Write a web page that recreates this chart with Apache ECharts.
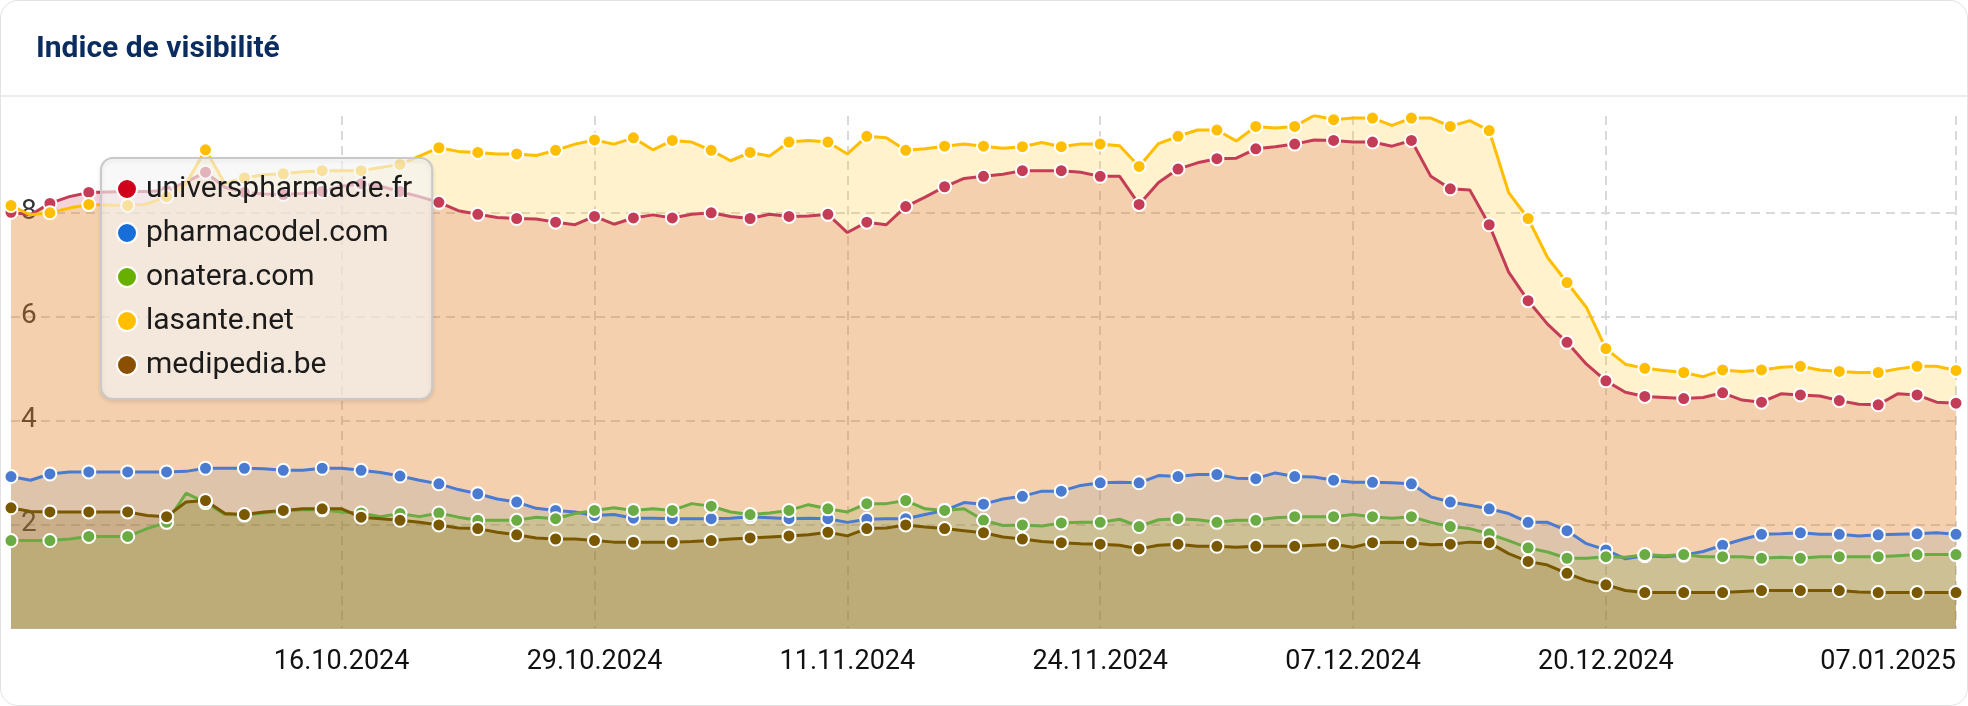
<!DOCTYPE html>
<html>
<head>
<meta charset="utf-8">
<script src="https://cdn.jsdelivr.net/npm/echarts@6/dist/echarts.min.js"></script>
<style>
html,body{margin:0;padding:0;background:#fff;}
#card{position:absolute;left:0;top:0;width:1966px;height:704px;border:1px solid #e2e2e2;border-radius:18px;overflow:hidden;background:#fff;}
#chart{width:1966px;height:704px;}
</style>
</head>
<body>
<div id="card"><div id="chart"></div></div>
<script>
const dates = [
'29.09.2024','30.09.2024','01.10.2024','02.10.2024','03.10.2024','04.10.2024','05.10.2024','06.10.2024','07.10.2024','08.10.2024',
'09.10.2024','10.10.2024','11.10.2024','12.10.2024','13.10.2024','14.10.2024','15.10.2024','16.10.2024','17.10.2024','18.10.2024',
'19.10.2024','20.10.2024','21.10.2024','22.10.2024','23.10.2024','24.10.2024','25.10.2024','26.10.2024','27.10.2024','28.10.2024',
'29.10.2024','30.10.2024','31.10.2024','01.11.2024','02.11.2024','03.11.2024','04.11.2024','05.11.2024','06.11.2024','07.11.2024',
'08.11.2024','09.11.2024','10.11.2024','11.11.2024','12.11.2024','13.11.2024','14.11.2024','15.11.2024','16.11.2024','17.11.2024',
'18.11.2024','19.11.2024','20.11.2024','21.11.2024','22.11.2024','23.11.2024','24.11.2024','25.11.2024','26.11.2024','27.11.2024',
'28.11.2024','29.11.2024','30.11.2024','01.12.2024','02.12.2024','03.12.2024','04.12.2024','05.12.2024','06.12.2024','07.12.2024',
'08.12.2024','09.12.2024','10.12.2024','11.12.2024','12.12.2024','13.12.2024','14.12.2024','15.12.2024','16.12.2024','17.12.2024',
'18.12.2024','19.12.2024','20.12.2024','21.12.2024','22.12.2024','23.12.2024','24.12.2024','25.12.2024','26.12.2024','27.12.2024',
'28.12.2024','29.12.2024','30.12.2024','31.12.2024','01.01.2025','02.01.2025','03.01.2025','04.01.2025','05.01.2025','06.01.2025',
'07.01.2025'];

const xTickLabels = ['16.10.2024','29.10.2024','11.11.2024','24.11.2024','07.12.2024','20.12.2024','07.01.2025'];
const yTickValues = [2, 4, 6, 8];

const universpharmacie = [
8.00,7.95,8.17,8.30,8.38,8.39,8.40,8.40,8.42,8.58,
8.77,8.48,8.38,8.35,8.34,8.36,8.40,8.50,8.55,8.50,
8.40,8.30,8.19,8.03,7.96,7.90,7.88,7.87,7.81,7.76,
7.92,7.77,7.89,7.95,7.89,7.96,7.99,7.92,7.88,7.96,
7.92,7.93,7.96,7.61,7.81,7.76,8.11,8.29,8.49,8.65,
8.69,8.73,8.80,8.80,8.80,8.77,8.69,8.69,8.15,8.57,
8.83,8.95,9.03,9.04,9.22,9.26,9.31,9.39,9.38,9.35,
9.35,9.27,9.38,8.69,8.45,8.43,7.76,6.85,6.30,5.85,
5.50,5.08,4.76,4.54,4.46,4.44,4.42,4.44,4.53,4.39,
4.35,4.51,4.49,4.47,4.38,4.31,4.30,4.51,4.49,4.35,
4.33];

const pharmacodel = [
2.92,2.85,2.97,3.01,3.01,3.01,3.01,3.01,3.01,3.02,
3.08,3.08,3.08,3.07,3.04,3.04,3.08,3.08,3.04,3.00,
2.93,2.85,2.78,2.67,2.59,2.49,2.43,2.31,2.27,2.24,
2.17,2.19,2.12,2.12,2.11,2.11,2.11,2.12,2.15,2.13,
2.11,2.12,2.11,2.04,2.10,2.11,2.11,2.19,2.27,2.42,
2.39,2.49,2.54,2.64,2.64,2.75,2.80,2.81,2.80,2.94,
2.92,2.96,2.96,2.89,2.88,2.99,2.92,2.91,2.85,2.81,
2.81,2.80,2.78,2.53,2.43,2.37,2.30,2.21,2.04,2.04,
1.88,1.63,1.51,1.34,1.40,1.38,1.41,1.48,1.60,1.71,
1.81,1.82,1.84,1.81,1.81,1.78,1.80,1.81,1.82,1.84,
1.81];

const onatera = [
1.69,1.69,1.69,1.72,1.77,1.77,1.77,1.92,2.04,2.60,
2.42,2.19,2.18,2.22,2.26,2.28,2.28,2.24,2.22,2.15,
2.21,2.15,2.22,2.14,2.08,2.08,2.08,2.14,2.11,2.21,
2.27,2.32,2.27,2.30,2.27,2.40,2.35,2.24,2.19,2.22,
2.27,2.38,2.30,2.24,2.40,2.40,2.46,2.30,2.27,2.30,
2.08,1.98,1.99,1.97,2.03,2.04,2.04,2.10,1.96,2.09,
2.11,2.09,2.04,2.08,2.08,2.13,2.15,2.15,2.15,2.19,
2.15,2.12,2.15,2.04,1.96,1.92,1.82,1.69,1.55,1.47,
1.35,1.35,1.38,1.37,1.42,1.40,1.42,1.38,1.38,1.38,
1.35,1.37,1.35,1.38,1.38,1.38,1.38,1.40,1.42,1.42,
1.42];

const lasante = [
8.13,7.95,7.99,8.08,8.15,8.14,8.13,8.16,8.30,8.55,
9.20,8.55,8.66,8.72,8.74,8.78,8.80,8.80,8.80,8.86,
8.92,9.08,9.24,9.17,9.15,9.12,9.12,9.09,9.19,9.31,
9.39,9.31,9.43,9.20,9.38,9.35,9.19,8.99,9.15,9.08,
9.35,9.38,9.35,9.12,9.46,9.43,9.19,9.22,9.27,9.31,
9.27,9.23,9.26,9.34,9.26,9.31,9.31,9.28,8.88,9.32,
9.46,9.58,9.58,9.37,9.65,9.62,9.65,9.86,9.78,9.81,
9.81,9.67,9.81,9.81,9.65,9.76,9.57,8.38,7.88,7.13,
6.65,6.17,5.38,5.08,5.00,4.96,4.92,4.84,4.97,4.94,
4.97,5.02,5.04,4.97,4.94,4.92,4.92,4.99,5.04,5.04,
4.96];

const medipedia = [
2.32,2.25,2.24,2.24,2.24,2.24,2.24,2.17,2.15,2.43,
2.46,2.21,2.19,2.24,2.27,2.30,2.30,2.30,2.14,2.11,
2.08,2.04,1.99,1.93,1.92,1.85,1.80,1.74,1.72,1.72,
1.69,1.66,1.66,1.66,1.66,1.67,1.69,1.72,1.74,1.76,
1.78,1.80,1.85,1.78,1.92,1.93,1.99,1.95,1.92,1.88,
1.84,1.76,1.72,1.67,1.65,1.63,1.62,1.60,1.53,1.60,
1.62,1.58,1.58,1.56,1.58,1.58,1.58,1.60,1.62,1.56,
1.65,1.66,1.65,1.61,1.62,1.66,1.65,1.44,1.29,1.22,
1.06,0.92,0.84,0.73,0.69,0.69,0.69,0.69,0.69,0.71,
0.73,0.73,0.73,0.73,0.73,0.70,0.69,0.69,0.69,0.69,
0.69];

const seriesNames = ['universpharmacie.fr','pharmacodel.com','onatera.com','lasante.net','medipedia.be'];
const seriesValues = [universpharmacie, pharmacodel, onatera, lasante, medipedia];
const lineColors = ['#c43d57','#4a7bd0','#6aab44','#ffbe00','#7a5800'];
const legendColors = ['#d0021b','#176ed8','#68b000','#ffbf00','#8a4f00'];
const areaOpacity = [0.22,0.16,0.2,0.2,0.2];

const FONT = 'Roboto, "Noto Sans", sans-serif';

const chart = echarts.init(document.getElementById('chart'), null, {renderer:'canvas'});

const series = seriesNames.map((name, i) => ({
  name: name,
  type: 'line',
  data: seriesValues[i],
  showAllSymbol: true,
  symbol: 'circle',
  symbolSize: (v, p) => (p.dataIndex % 2 === 0 ? 13 : 0),
  lineStyle: {color: lineColors[i], width: 3},
  itemStyle: {color: lineColors[i], borderColor: '#fff', borderWidth: 2},
  areaStyle: {color: lineColors[i], opacity: areaOpacity[i]},
  emphasis: {disabled: true},
  animation: false
}));

chart.setOption({
  animation: false,
  title: {
    text: 'Indice de visibilité',
    left: 30, top: 28,
    textStyle: {fontFamily: FONT, fontSize: 30, fontWeight: 'bold', color: '#0b2c5f'}
  },
  graphic: [{
    type: 'rect', shape: {x: 0, y: 94, width: 1966, height: 2},
    style: {fill: '#ececec'}, silent: true
  }],
  legend: {
    orient: 'vertical',
    left: 100, top: 157,
    padding: [16, 20, 19, 15],
    itemGap: 14,
    itemWidth: 20, itemHeight: 20,
    icon: 'circle',
    selectedMode: false,
    backgroundColor: 'rgba(255,255,255,0.62)',
    borderColor: '#c9c9c9', borderWidth: 2, borderRadius: 12,
    shadowBlur: 4, shadowColor: 'rgba(0,0,0,0.12)', shadowOffsetY: 2,
    z: 20,
    textStyle: {fontFamily: FONT, fontSize: 30, color: '#1b1b1b', padding: [0,0,0,4]},
    data: seriesNames.map((n, i) => ({name: n, itemStyle: {color: legendColors[i]}}))
  },
  grid: {left: 10, right: 11, top: 115, bottom: 76.5, containLabel: false},
  xAxis: {
    type: 'category',
    data: dates,
    boundaryGap: false,
    axisLine: {show: true, lineStyle: {color: '#d6d6d6', width: 1}},
    axisTick: {show: false},
    axisLabel: {
      interval: (idx, val) => xTickLabels.indexOf(val) >= 0,
      fontFamily: FONT, fontSize: 27, color: '#111', margin: 20,
      alignMaxLabel: 'right'
    },
    splitLine: {
      show: true,
      interval: (idx, val) => xTickLabels.indexOf(val) >= 0,
      lineStyle: {color: '#d9d9d9', type: [9, 6], width: 2}
    }
  },
  yAxis: {
    type: 'value',
    min: 0, max: 9.85, interval: 2,
    axisLine: {show: false},
    axisTick: {show: false},
    axisLabel: {
      inside: true, margin: 10,
      showMinLabel: false, showMaxLabel: false,
      formatter: v => (yTickValues.indexOf(v) >= 0 ? String(v) : ''),
      fontFamily: FONT, fontSize: 28, color: '#333'
    },
    splitLine: {
      show: true, showMinLine: false, showMaxLine: false,
      lineStyle: {color: '#d9d9d9', type: [9, 6], width: 2}
    }
  },
  series: series
});
</script>
</body>
</html>
